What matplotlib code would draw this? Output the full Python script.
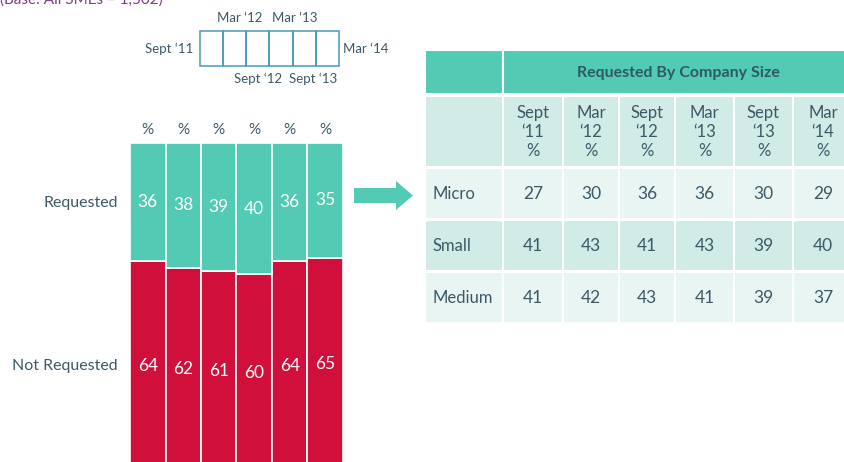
import matplotlib
matplotlib.use('Agg')
import matplotlib.pyplot as plt
from matplotlib.patches import Rectangle, FancyArrow

plt.rcParams['font.family'] = ['Lato', 'DejaVu Sans']

# data
periods = ['Sept \u201811', 'Mar \u201812', 'Sept \u201812', 'Mar \u201813', 'Sept \u201813', 'Mar \u201814']
requested = [36, 38, 39, 40, 36, 35]
not_requested = [64, 62, 61, 60, 64, 65]
sizes = ['Micro', 'Small', 'Medium']
micro = [27, 30, 36, 36, 30, 29]
small = [41, 43, 41, 43, 39, 40]
medium = [41, 42, 43, 41, 39, 37]
table_title = 'Requested By Company Size'

TEAL = '#52cab4'
RED = '#d0103a'
TXT = '#3d5966'
W, H = 845, 462

fig = plt.figure(figsize=(W / 100, H / 100), dpi=100)

# stacked bars, axes placed in pixel space (bottom runs off the figure)
y0, y100 = 471, 143
ax = fig.add_axes([130 / W, (H - y0) / H, (343 - 130) / W, (y0 - y100) / H])
x = range(len(requested))
ax.bar(x, not_requested, width=1.0, color=RED, edgecolor='white', linewidth=1.2)
ax.bar(x, requested, width=1.0, bottom=not_requested, color=TEAL, edgecolor='white', linewidth=1.2)
for i in x:
    ax.text(i, not_requested[i] + requested[i] / 2, str(requested[i]), ha='center', va='center',
            color='white', fontsize=12.5)
    ax.text(i, not_requested[i] / 2, str(not_requested[i]), ha='center', va='center',
            color='white', fontsize=12.5)
    ax.text(i, 104, '%', ha='center', va='center', color=TXT, fontsize=11)
ax.set_xlim(-0.5, 5.5)
ax.set_ylim(0, 100)
ax.axis('off')

# overlay in pixel coords
ov = fig.add_axes([0, 0, 1, 1])
ov.set_xlim(0, W)
ov.set_ylim(H, 0)
ov.axis('off')
ov.patch.set_alpha(0)

ov.text(0, 4, '(Base: All SMEs = 1,502)', color='#7b3f7f', fontsize=11, ha='left', va='baseline')

ov.text(118, 203, 'Requested', ha='right', va='center', color=TXT, fontsize=11.5)
ov.text(118, 366, 'Not Requested', ha='right', va='center', color=TXT, fontsize=11.5)

# period key
bx0, bx1 = 200, 339
bw = (bx1 - bx0) / 6
for i in range(6):
    ov.add_patch(Rectangle((bx0 + i * bw, 31), bw, 35, fill=False, edgecolor='#4a9ab8', linewidth=1.1))
ov.text(193, 49, periods[0], ha='right', va='center', color=TXT, fontsize=9.5)
ov.text(343, 49, periods[5], ha='left', va='center', color=TXT, fontsize=9.5)
ov.text(240, 18, periods[1], ha='center', va='center', color=TXT, fontsize=9.5)
ov.text(295, 18, periods[3], ha='center', va='center', color=TXT, fontsize=9.5)
ov.text(258, 79, periods[2], ha='center', va='center', color=TXT, fontsize=9.5)
ov.text(313, 79, periods[4], ha='center', va='center', color=TXT, fontsize=9.5)

# arrow
ov.add_patch(FancyArrow(354, 195.5, 59, 0, width=15, head_width=29, head_length=17,
                        length_includes_head=True, color=TEAL, linewidth=0))

# table
col_edges = [425, 503, 563, 619, 675, 734, 793, 853]
ov.add_patch(Rectangle((425, 50), 78, 44, facecolor=TEAL, edgecolor='white', linewidth=1.5))
ov.add_patch(Rectangle((503, 50), 350, 44, facecolor=TEAL, edgecolor='white', linewidth=1.5))
ov.text(678, 73, table_title, ha='center', va='center', color='#2d5a63', fontsize=11.5, fontweight='bold')

for c in range(7):
    ov.add_patch(Rectangle((col_edges[c], 96), col_edges[c + 1] - col_edges[c], 71,
                           facecolor='#d1ebe6', edgecolor='white', linewidth=1.5))
for j, p in enumerate(periods):
    cx = (col_edges[j + 1] + col_edges[j + 2]) / 2
    if j == 5:
        cx = 823
    m, yr = p.split(' ')
    ov.text(cx, 132, m + '\n' + yr + '\n%', ha='center', va='center', color=TXT,
            fontsize=12, linespacing=1.2)

rows = [micro, small, medium]
row_top = [168, 220, 272]
row_bg = ['#e8f5f3', '#d1ebe6', '#e8f5f3']
for r, vals in enumerate(rows):
    for c in range(7):
        ov.add_patch(Rectangle((col_edges[c], row_top[r]), col_edges[c + 1] - col_edges[c], 51,
                               facecolor=row_bg[r], edgecolor='white', linewidth=1.5))
    ov.text(433, row_top[r] + 26, sizes[r], ha='left', va='center', color=TXT, fontsize=12)
    for j, v in enumerate(vals):
        cx = (col_edges[j + 1] + col_edges[j + 2]) / 2
        if j == 5:
            cx = 823
        ov.text(cx, row_top[r] + 26, str(v), ha='center', va='center', color=TXT, fontsize=12.5)

fig.savefig('out.png', dpi=100)
